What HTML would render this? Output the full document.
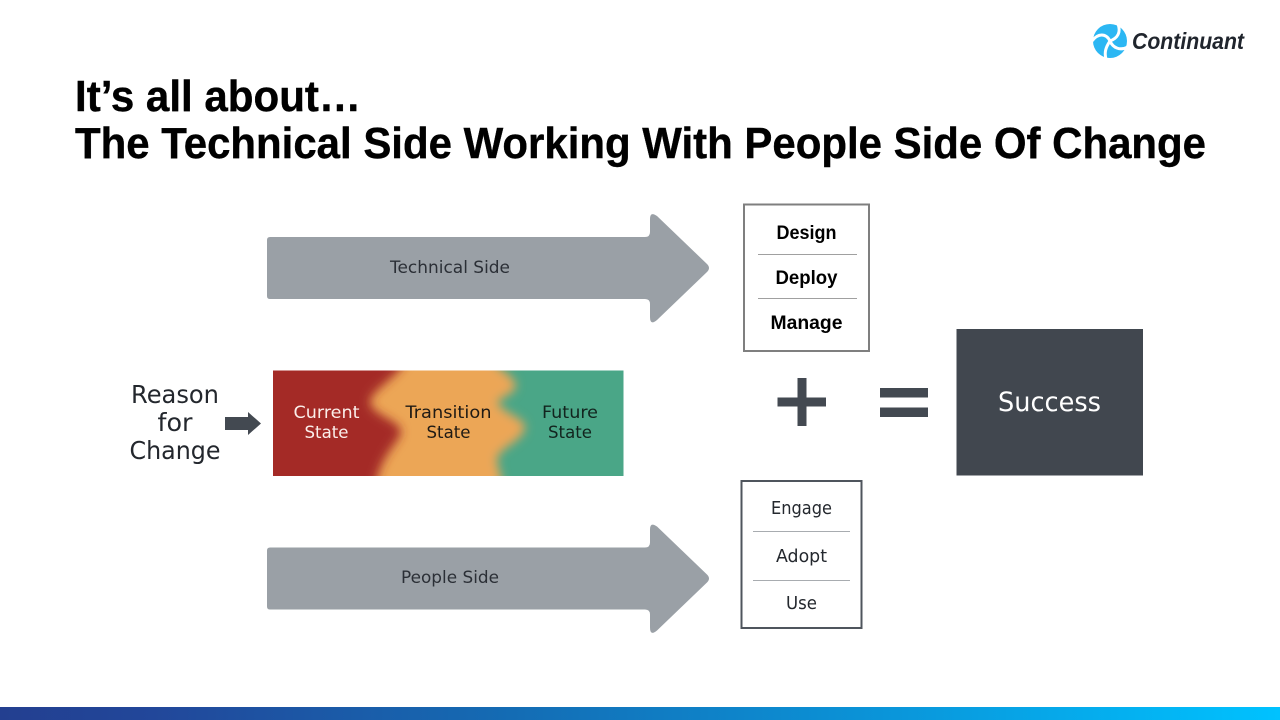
<!DOCTYPE html>
<html>
<head>
<meta charset="utf-8">
<style>
html,body{margin:0;padding:0;background:#fff;width:1280px;height:720px;overflow:hidden}
svg{display:block}
text{font-family:"Liberation Sans","DejaVu Sans",sans-serif}
text.o{font-family:"DejaVu Sans","Liberation Sans",sans-serif}
</style>
</head>
<body>
<svg width="1280" height="720" viewBox="0 0 1280 720" xmlns="http://www.w3.org/2000/svg">
<defs>
<linearGradient id="bar" x1="0" x2="1" y1="0" y2="0">
<stop offset="0" stop-color="#233f90"/><stop offset=".12" stop-color="#22479a"/><stop offset=".4" stop-color="#146cb4"/><stop offset=".7" stop-color="#0a96da"/><stop offset="1" stop-color="#00c2ff"/>
</linearGradient>
<filter id="b1" x="-20%" y="-20%" width="140%" height="140%"><feGaussianBlur stdDeviation="5"/></filter>
<clipPath id="st"><rect x="273" y="370.500" width="350.500" height="105.500"/></clipPath>
<path id="ar" d="M270 0H645Q650 0 650 -5V-18Q650 -26 657 -21L707 27Q711 31 707 35L657 83Q650 89 650 80V67Q650 62 645 62H270Q267 62 267 59V3Q267 0 270 0Z"/>
</defs>
<rect width="1280" height="720" fill="#fff"/>

<!-- Logo -->
<g>
<circle cx="1110" cy="41" r="17" fill="#2cb7f3"/>
<path d="M1110 41C1106 33 1098 33 1092 41" fill="none" stroke="#fff" stroke-width="3"/>
<path d="M1110 41C1118 38 1121 32 1118 24" fill="none" stroke="#fff" stroke-width="3"/>
<path d="M1110 41C1113 48 1120 51 1128 47" fill="none" stroke="#fff" stroke-width="3"/>
<path d="M1110 41C1106 47 1104 52 1106 59" fill="none" stroke="#fff" stroke-width="3"/>
<text x="1132" y="49" font-size="23" font-weight="700" font-style="italic" fill="#20252d" textLength="112" lengthAdjust="spacingAndGlyphs">Continuant</text>
</g>

<!-- Title -->
<g fill="#000" stroke="#000" stroke-width=".4" font-weight="700" font-size="44">
<text x="75" y="111" textLength="286" lengthAdjust="spacingAndGlyphs">It’s all about…</text>
<text x="75" y="158" textLength="1131" lengthAdjust="spacingAndGlyphs">The Technical Side Working With People Side Of Change</text>
</g>

<!-- Technical arrow -->
<use href="#ar" y="237" fill="#9aa0a6"/>
<text class="o" x="450" y="273" font-size="17" fill="#2b2f36" text-anchor="middle" textLength="120" lengthAdjust="spacingAndGlyphs">Technical Side</text>

<!-- People arrow -->
<use href="#ar" y="547.500" fill="#9aa0a6"/>
<text class="o" x="450" y="583" font-size="17" fill="#2b2f36" text-anchor="middle" textLength="98" lengthAdjust="spacingAndGlyphs">People Side</text>

<!-- Box 1 -->
<rect x="744" y="204.500" width="125" height="146.500" fill="#fff" stroke="#7f7f7f" stroke-width="2"/>
<line x1="758" x2="857" y1="254.500" y2="254.500" stroke="#a0a0a0" stroke-width="1"/>
<line x1="758" x2="857" y1="298.500" y2="298.500" stroke="#a0a0a0" stroke-width="1"/>
<text x="806.500" y="239" font-size="19" font-weight="700" fill="#000" text-anchor="middle" textLength="60" lengthAdjust="spacingAndGlyphs">Design</text>
<text x="806.500" y="284" font-size="19" font-weight="700" fill="#000" text-anchor="middle" textLength="62" lengthAdjust="spacingAndGlyphs">Deploy</text>
<text x="806.500" y="329" font-size="19" font-weight="700" fill="#000" text-anchor="middle" textLength="72" lengthAdjust="spacingAndGlyphs">Manage</text>

<!-- Box 2 -->
<rect x="741.500" y="481" width="120" height="147" fill="#fff" stroke="#4f555d" stroke-width="2"/>
<line x1="753" x2="850" y1="531.500" y2="531.500" stroke="#a8acb0" stroke-width="1"/>
<line x1="753" x2="850" y1="580.500" y2="580.500" stroke="#a8acb0" stroke-width="1"/>
<g font-size="18" fill="#24282e" text-anchor="middle">
<text class="o" x="801.500" y="514" textLength="61" lengthAdjust="spacingAndGlyphs">Engage</text>
<text class="o" x="801.500" y="562" textLength="51" lengthAdjust="spacingAndGlyphs">Adopt</text>
<text class="o" x="801.500" y="609" textLength="31" lengthAdjust="spacingAndGlyphs">Use</text>
</g>

<!-- Reason for change -->
<g font-size="25" fill="#23272d" text-anchor="middle">
<text class="o" x="175" y="403" textLength="88" lengthAdjust="spacingAndGlyphs">Reason</text>
<text class="o" x="175" y="431" textLength="35" lengthAdjust="spacingAndGlyphs">for</text>
<text class="o" x="175" y="459" textLength="91" lengthAdjust="spacingAndGlyphs">Change</text>
</g>
<path d="M225 417H248V412L261 423.500L248 435V430H225Z" fill="#434951"/>

<!-- State band -->
<g clip-path="url(#st)">
<rect x="273" y="370" width="351" height="106" fill="#4aa687"/>
<path d="M260 350H486C492 368 512 372 516 385C514 396 500 396 498 403C504 414 526 418 525 428C522 442 498 448 497 460C498 470 503 476 503 495H260Z" fill="#eca656" filter="url(#b1)"/>
<path d="M260 350H410C404 376 372 388 370 402C372 416 402 420 401 433C396 446 378 458 374 495H260Z" fill="#a42a27" filter="url(#b1)"/>
</g>
<g font-size="16.500" text-anchor="middle">
<text class="o" x="326.500" y="418" fill="#fbeeea" textLength="66" lengthAdjust="spacingAndGlyphs">Current</text>
<text class="o" x="326.500" y="438" fill="#fbeeea" textLength="44" lengthAdjust="spacingAndGlyphs">State</text>
<text class="o" x="448.500" y="418" fill="#1f1a14" textLength="86" lengthAdjust="spacingAndGlyphs">Transition</text>
<text class="o" x="448.500" y="438" fill="#1f1a14" textLength="44" lengthAdjust="spacingAndGlyphs">State</text>
<text class="o" x="570" y="418" fill="#12241e" textLength="56" lengthAdjust="spacingAndGlyphs">Future</text>
<text class="o" x="570" y="438" fill="#12241e" textLength="44" lengthAdjust="spacingAndGlyphs">State</text>
</g>

<!-- Plus -->
<path d="M797.500 378H806.500V397.500H826V406.500H806.500V426H797.500V406.500H777.500V397.500H797.500Z" fill="#434951"/>
<!-- Equals -->
<rect x="880" y="388" width="48" height="9.500" fill="#434951"/>
<rect x="880" y="407.500" width="48" height="9.500" fill="#434951"/>

<!-- Success -->
<rect x="956.500" y="329" width="186.500" height="146.500" fill="#41474f"/>
<text class="o" x="1049.500" y="411" font-size="27" fill="#fff" text-anchor="middle" textLength="103" lengthAdjust="spacingAndGlyphs">Success</text>

<!-- Bottom bar -->
<rect x="0" y="707" width="1280" height="13" fill="url(#bar)"/>
</svg>
</body>
</html>
